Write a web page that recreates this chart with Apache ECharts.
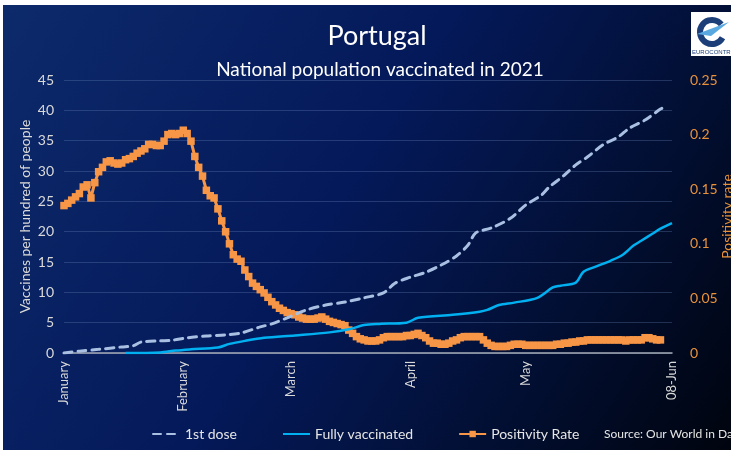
<html>
<head>
<meta charset="utf-8">
<script src="https://cdn.jsdelivr.net/npm/echarts@6/dist/echarts.min.js"></script>
<style>
  body { margin: 0; background: #fff; }
  #main { position: absolute; left: 3px; top: 5px; width: 728px; height: 445px; }
</style>
</head>
<body>
<div id="main"></div>
<script type="text/javascript">
// tick labels on the x axis (day index from 1 Jan 2021)
var labelIdx = [0, 31, 59, 90, 120, 158];
var labelText = ['January', 'February', 'March', 'April', 'May', '08-Jun'];

// 1st dose, vaccines per hundred (day index, value)
var dose1Days = [0, 4, 9, 15, 18, 20, 25, 28, 32, 37, 42, 46, 51, 54, 58, 63, 68, 73, 78, 83, 86, 90, 94, 98, 102, 105, 107, 111, 116, 120, 124, 126, 130, 133, 136, 140, 144, 147, 151, 155, 156];
var dose1Vals = [0, 0.3, 0.6, 1.0, 1.2, 1.8, 2.0, 2.1, 2.5, 2.8, 3.0, 3.3, 4.3, 4.8, 5.8, 7.1, 7.9, 8.4, 9.1, 9.9, 11.5, 12.5, 13.3, 14.5, 16.0, 17.8, 19.8, 20.6, 22.2, 24.4, 26.0, 27.3, 29.3, 31.0, 32.3, 34.3, 35.6, 37.1, 38.4, 40.2, 40.5];

// fully vaccinated, per hundred (day index, value)
var fullDays = [16, 25, 29, 33, 40, 43, 47, 52, 60, 69, 74, 78, 82, 89, 92, 101, 108, 110, 113, 117, 123, 127, 129, 133, 135, 138, 142, 145, 148, 150, 153, 155, 158];
var fullVals = [0, 0.1, 0.4, 0.6, 0.9, 1.5, 2.0, 2.5, 2.9, 3.4, 3.9, 4.6, 4.8, 5.0, 5.8, 6.3, 6.8, 7.1, 7.9, 8.3, 9.1, 10.8, 11.1, 11.6, 13.4, 14.2, 15.2, 16.1, 17.7, 18.5, 19.7, 20.5, 21.4];

// daily positivity rate from 1 Jan
var positivity = [
  0.135, 0.137, 0.140, 0.143, 0.146, 0.152, 0.154, 0.142, 0.156, 0.166,
  0.170, 0.175, 0.176, 0.174, 0.173, 0.174, 0.177, 0.178, 0.180, 0.183,
  0.185, 0.187, 0.191, 0.191, 0.190, 0.190, 0.194, 0.200, 0.201, 0.200,
  0.201, 0.204, 0.201, 0.194, 0.180, 0.170, 0.162, 0.149, 0.144, 0.142,
  0.132, 0.121, 0.111, 0.100, 0.090, 0.086, 0.084, 0.076, 0.070, 0.064,
  0.061, 0.058, 0.055, 0.051, 0.047, 0.044, 0.041, 0.039, 0.037, 0.036,
  0.035, 0.033, 0.032, 0.031, 0.031, 0.031, 0.032, 0.033, 0.031, 0.029,
  0.028, 0.027, 0.026, 0.025, 0.021, 0.018, 0.015, 0.013, 0.012, 0.011,
  0.011, 0.011, 0.012, 0.014, 0.015, 0.015, 0.015, 0.015, 0.015, 0.016,
  0.016, 0.017, 0.018, 0.016, 0.014, 0.011, 0.009, 0.009, 0.008, 0.008,
  0.009, 0.011, 0.012, 0.014, 0.015, 0.015, 0.015, 0.015, 0.015, 0.012,
  0.009, 0.007, 0.006, 0.006, 0.006, 0.006, 0.007, 0.008, 0.008, 0.008,
  0.007, 0.007, 0.007, 0.007, 0.007, 0.007, 0.007, 0.007, 0.008, 0.008,
  0.009, 0.009, 0.010, 0.010, 0.011, 0.011, 0.012, 0.012, 0.012, 0.012,
  0.012, 0.012, 0.012, 0.012, 0.012, 0.012, 0.011, 0.012, 0.012, 0.012,
  0.012, 0.014, 0.014, 0.013, 0.012, 0.012
];

// categories: every day from 1 Jan to 8 Jun 2021
var days = [];
var d0 = Date.UTC(2021, 0, 1);
for (var i = 0; i <= 158; i++) {
    days.push(echarts.time.format(d0 + i * 86400000, '{yyyy}-{MM}-{dd}', true));
}

function pairs(xs, ys) {
    var out = [];
    for (var i = 0; i < xs.length; i++) out.push([xs[i], ys[i]]);
    return out;
}

var font = 'Lato, "Noto Sans", sans-serif';
var myChart = echarts.init(document.getElementById('main'));

var option = {
    backgroundColor: {
        type: 'linear', x: 0, y: 0, x2: 1, y2: 1,
        colorStops: [
            { offset: 0, color: '#0d2a6a' },
            { offset: 0.45, color: '#04195a' },
            { offset: 0.75, color: '#020f33' },
            { offset: 1, color: '#00040e' }
        ]
    },
    textStyle: { fontFamily: font },
    title: [
        { text: 'Portugal', left: 369, top: 13, textAlign: 'center',
          textStyle: { color: '#ffffff', fontSize: 27, fontWeight: 'normal', fontFamily: font } },
        { text: 'National population vaccinated in 2021', left: 372, top: 50, textAlign: 'center',
          textStyle: { color: '#ffffff', fontSize: 19, fontWeight: 'normal', fontFamily: font } }
    ],
    grid: { left: 61, right: 59, top: 75, bottom: 97, outerBoundsMode: 'none' },
    legend: {
        left: 149, top: 422, padding: 0,
        itemWidth: 27, itemHeight: 8, itemGap: 45,
        textStyle: { color: '#e6e6e6', fontSize: 14, fontFamily: font },
        data: [
            { name: '1st dose', itemStyle: { opacity: 0 } },
            { name: 'Fully vaccinated', itemStyle: { opacity: 0 } },
            { name: 'Positivity Rate' }
        ]
    },
    xAxis: {
        type: 'category',
        data: days,
        boundaryGap: false,
        axisLine: { lineStyle: { color: '#a6adb8', width: 1.5 } },
        axisTick: { show: false },
        axisLabel: {
            rotate: 90,
            color: '#d9d9d9',
            fontSize: 13,
            margin: 8,
            interval: function (idx) { return labelIdx.indexOf(idx) >= 0; },
            formatter: function (v, idx) {
                var k = labelIdx.indexOf(idx);
                return k >= 0 ? labelText[k] : '';
            }
        }
    },
    yAxis: [
        {
            type: 'value', min: 0, max: 45, interval: 5,
            name: 'Vaccines per hundred of people',
            nameLocation: 'middle', nameGap: 32, nameRotate: 90, nameMoveOverlap: false,
            nameTextStyle: { color: '#d9d9d9', fontSize: 14, fontFamily: font },
            axisLine: { show: false }, axisTick: { show: false },
            axisLabel: { color: '#d9d9d9', fontSize: 14, margin: 10 },
            splitLine: { lineStyle: { color: 'rgba(110,140,190,0.3)', width: 1 } }
        },
        {
            type: 'value', min: 0, max: 0.25, interval: 0.05,
            name: 'Positivity rate',
            nameLocation: 'middle', nameGap: 48, nameRotate: 90, nameMoveOverlap: false,
            nameTextStyle: { color: '#e8913a', fontSize: 14, fontFamily: font },
            axisLine: { show: false }, axisTick: { show: false },
            axisLabel: { color: '#e8913a', fontSize: 14, margin: 18 },
            splitLine: { show: false }
        }
    ],
    series: [
        {
            name: '1st dose', type: 'line', yAxisIndex: 0,
            data: pairs(dose1Days, dose1Vals),
            smooth: 0.3, showSymbol: false, symbol: 'none',
            lineStyle: { color: '#a9c0e2', width: 3, type: [8, 6], cap: 'round' },
            itemStyle: { color: '#a9c0e2' },
            z: 3
        },
        {
            name: 'Fully vaccinated', type: 'line', yAxisIndex: 0,
            data: pairs(fullDays, fullVals),
            smooth: 0.3, showSymbol: false, symbol: 'none',
            lineStyle: { color: '#00b0f0', width: 2.5 },
            itemStyle: { color: '#00b0f0' },
            z: 3
        },
        {
            name: 'Positivity Rate', type: 'line', yAxisIndex: 1,
            data: positivity,
            symbol: 'rect', symbolSize: 7.5, showAllSymbol: true,
            lineStyle: { color: '#f79646', width: 3 },
            itemStyle: { color: '#f79646' },
            z: 2
        }
    ],
    graphic: [
        { type: 'text', left: 601, top: 423,
          style: { text: 'Source: Our World in Data', fill: '#e6e6e6', font: '12px ' + font } },
        { type: 'group', left: 688, top: 7, children: [
            { type: 'rect', shape: { x: 0, y: 0, width: 45, height: 44 }, style: { fill: '#ffffff' } },
            { type: 'arc', shape: { cx: 21, cy: 20, r: 12, startAngle: 0.5, endAngle: 5.6 },
              style: { stroke: '#1c3f7a', lineWidth: 6, fill: null } },
            { type: 'polygon', shape: { points: [[6, 22], [38, 10], [20, 24]] },
              style: { fill: '#5aa8e0' } },
            { type: 'text', x: 1, y: 37, style: { text: 'EUROCONTROL', fill: '#1c3f7a', font: '6px sans-serif' } }
        ] }
    ]
};
myChart.setOption(option);
</script>
</body>
</html>
